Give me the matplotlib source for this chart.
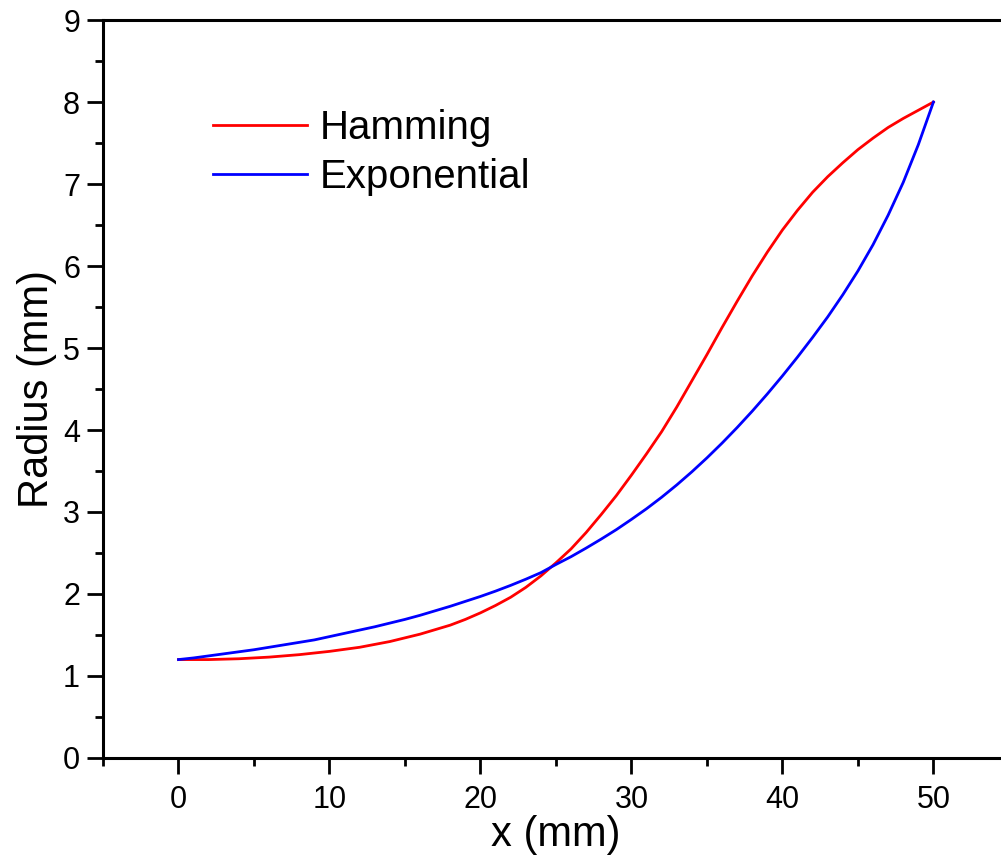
import matplotlib
matplotlib.use("Agg")
import matplotlib.pyplot as plt
from matplotlib.ticker import MultipleLocator

plt.rcParams['font.family'] = ['Liberation Sans', 'DejaVu Sans']

# values (radius in mm at position x in mm)
x_mm = list(range(0, 51))
hamming = [1.20, 1.20, 1.20, 1.205, 1.21, 1.22, 1.23, 1.245, 1.26, 1.28,
           1.30, 1.325, 1.35, 1.385, 1.42, 1.465, 1.51, 1.565, 1.62, 1.69,
           1.77, 1.86, 1.96, 2.08, 2.22, 2.38, 2.55, 2.75, 2.97, 3.20,
           3.45, 3.71, 3.98, 4.28, 4.60, 4.92, 5.25, 5.57, 5.88, 6.17,
           6.44, 6.68, 6.90, 7.09, 7.26, 7.42, 7.56, 7.69, 7.80, 7.90,
           8.00]
exponential = [1.20, 1.22, 1.245, 1.27, 1.295, 1.32, 1.35, 1.38, 1.41, 1.44,
               1.48, 1.52, 1.56, 1.60, 1.645, 1.69, 1.74, 1.795, 1.85, 1.91,
               1.97, 2.035, 2.105, 2.18, 2.26, 2.36, 2.455, 2.56, 2.67, 2.785,
               2.91, 3.04, 3.18, 3.33, 3.49, 3.66, 3.84, 4.03, 4.23, 4.44,
               4.66, 4.89, 5.13, 5.38, 5.65, 5.94, 6.26, 6.62, 7.02, 7.48,
               8.00]

fig = plt.figure(figsize=(10.01, 8.58), dpi=100)
ax = fig.add_axes([0.1029, 0.1166, 0.905, 0.860])

ax.plot(x_mm, hamming, color='red', lw=2.0, label='Hamming')
ax.plot(x_mm, exponential, color='blue', lw=2.0, label='Exponential')

ax.set_xlim(-5, 55)
ax.set_ylim(0, 9)
ax.xaxis.set_major_locator(MultipleLocator(10))
ax.xaxis.set_minor_locator(MultipleLocator(5))
ax.yaxis.set_major_locator(MultipleLocator(1))
ax.yaxis.set_minor_locator(MultipleLocator(0.5))

for s in ax.spines.values():
    s.set_linewidth(2.2)
ax.tick_params(which='major', direction='out', length=11.5, width=2.0, labelsize=22, pad=5)
ax.tick_params(which='minor', direction='out', length=5.5, width=2.0)
ax.tick_params(axis='x', which='major', pad=8)

ax.set_xlabel('x (mm)', fontsize=30, labelpad=0)
ax.set_ylabel('Radius (mm)', fontsize=30, labelpad=4)

ax.legend(loc='upper left', bbox_to_anchor=(0.121, 0.879), frameon=False,
          fontsize=29, handlelength=2.35, handletextpad=0.32, labelspacing=0.26,
          borderpad=0, borderaxespad=0)

fig.savefig('out.png', dpi=100)
